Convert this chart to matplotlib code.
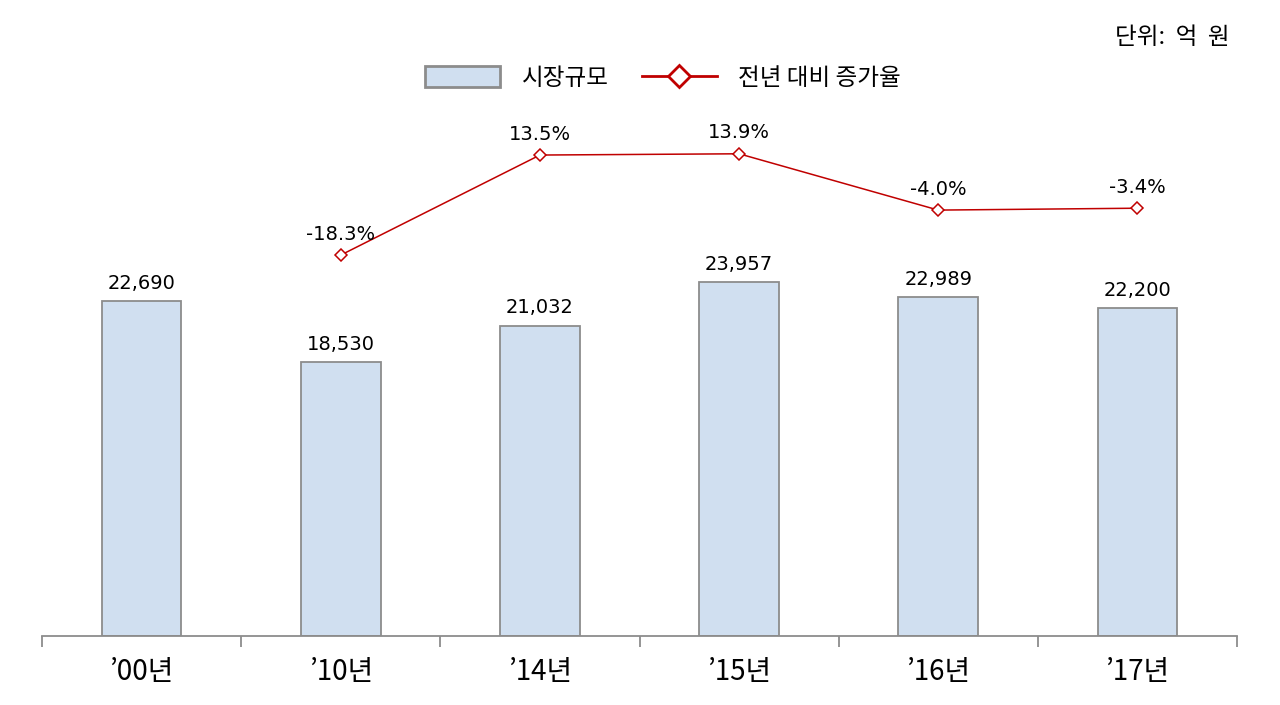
import numpy as np
import matplotlib
matplotlib.use('Agg')
import matplotlib.pyplot as plt
from matplotlib.patches import Patch
from matplotlib.lines import Line2D

plt.rcParams['font.family'] = ['DejaVu Sans', 'Noto Sans CJK KR']

years = ["’00년", "’10년", "’14년", "’15년", "’16년", "’17년"]
market = [22690, 18530, 21032, 23957, 22989, 22200]
growth_years = [1, 2, 3, 4, 5]
growth = [-18.3, 13.5, 13.9, -4.0, -3.4]

bar_color = '#d0dff0'
edge_color = '#8c8c8c'
line_color = '#c00000'
kr = ['Noto Sans CJK KR', 'DejaVu Sans']
narrow = ['Liberation Sans Narrow', 'Noto Sans CJK KR']

fig = plt.figure(figsize=(12.8, 7.05), dpi=100)
ax = fig.add_axes([42/1280, 69/705, 1195/1280, 536/705])
x = np.arange(len(years))

ax.bar(x, market, width=0.40, color=bar_color, edgecolor=edge_color, linewidth=1.3)
for xi, v in zip(x, market):
    ax.text(xi, v + 550, f'{v:,}', ha='center', va='bottom', fontsize=14)

ax.set_xlim(-0.5, len(years) - 0.5)
ax.set_ylim(0, 36310)
ax.set_yticks([])
for s in ['top', 'right', 'left']:
    ax.spines[s].set_visible(False)
ax.spines['bottom'].set_color(edge_color)
ax.spines['bottom'].set_linewidth(1.3)
ax.set_xticks(np.arange(-0.5, len(years), 1), minor=False)
ax.set_xticklabels([])
ax.tick_params(axis='x', which='major', length=8, color=edge_color, width=1.3, direction='out')
ax.set_xticks(x, minor=True)
ax.set_xticklabels(years, minor=True, fontsize=20, family=narrow)
ax.tick_params(axis='x', which='minor', length=0, pad=15)

ax2 = ax.twinx()
ax2.plot(growth_years, growth, color=line_color, linewidth=1.1, marker='D', markersize=6.5,
         markerfacecolor='white', markeredgecolor=line_color, markeredgewidth=1.1)
for xi, v in zip(growth_years, growth):
    ax2.text(xi, v + 3.6, f'{v:.1f}%', ha='center', va='bottom', fontsize=14)
ax2.set_ylim(-139.4, 31.0)
ax2.set_yticks([])
ax2.set_xlim(-0.5, len(years) - 0.5)
for s in ['top', 'right', 'left', 'bottom']:
    ax2.spines[s].set_visible(False)

handles = [Patch(facecolor=bar_color, edgecolor=edge_color, linewidth=2),
           Line2D([0], [0], color=line_color, linewidth=2, marker='D', markersize=11,
                  markerfacecolor='white', markeredgecolor=line_color, markeredgewidth=2)]
fig.legend(handles, ['시장규모', '전년 대비 증가율'], loc='center', bbox_to_anchor=(0.518, 1 - 78/705),
           ncol=2, frameon=False, prop={'family': kr, 'size': 17}, handlelength=3.2,
           handleheight=1.0, columnspacing=1.4, handletextpad=0.9)

fig.text(1230/1280, 1 - 38/705, '단위:  억  원', ha='right', va='center', fontsize=17, family=kr)

fig.savefig('out.png', dpi=100, facecolor='white')
